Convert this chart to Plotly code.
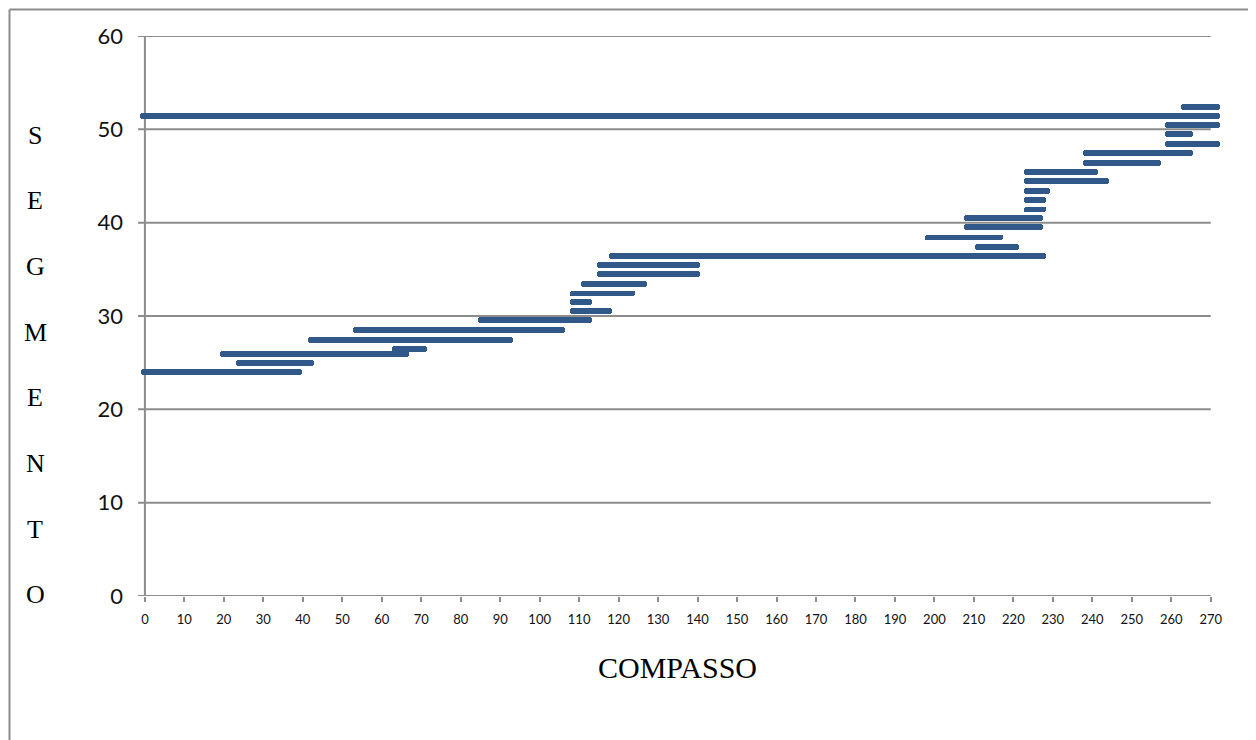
import plotly.graph_objects as go

# ---- data ----
segment = [24.03, 25.0, 25.96, 26.46, 27.43, 28.46, 29.57, 30.5, 31.46, 32.4,
           33.4, 34.5, 35.5, 36.47, 37.43, 38.4, 39.57, 40.46, 41.4, 42.4,
           43.4, 44.43, 45.43, 46.43, 47.43, 48.4, 49.5, 50.5, 51.46, 52.43]
start_bar = [-1.0, 23.0, 19.0, 62.7, 41.3, 52.7, 84.5, 107.6, 107.6, 107.6,
             110.4, 114.4, 114.4, 117.6, 210.3, 197.6, 207.5, 207.5, 222.6, 222.6,
             222.6, 222.6, 222.6, 237.6, 237.6, 258.4, 258.4, 258.4, -1.2, 262.5]
end_bar = [39.7, 42.9, 66.9, 71.5, 93.3, 106.4, 113.3, 118.3, 113.3, 124.2,
           127.3, 140.6, 140.6, 228.2, 221.4, 217.4, 227.4, 227.4, 228.2, 228.2,
           229.2, 244.2, 241.5, 257.3, 265.5, 272.4, 265.5, 272.4, 272.4, 272.4]
x_ticks = list(range(0, 271, 10))
y_ticks = [0, 10, 20, 30, 40, 50, 60]
x_title = "COMPASSO"
y_title = "SEGMENTO"

BAR = "#30598a"
GRID = "#8c8c8c"

# page has an 8px body margin; figure pixel = page pixel - 8
OFF = 8
L, T, PW, PH = 138 - OFF, 36 - OFF, 1083, 560
W, H = 1248, 732


def px_x(p):
    return (p - OFF - L) / PW


def px_y(p):
    return (T + PH - (p - OFF)) / PH


fig = go.Figure()
fig.add_trace(go.Bar(
    y=segment,
    x=[e - s for s, e in zip(start_bar, end_bar)],
    base=start_bar,
    orientation="h",
    width=0.62,
    marker=dict(color=BAR, line=dict(width=0), cornerradius=3),
    hoverinfo="skip",
))

X0, X1 = -1.75, 272.6
shapes = []
for v in y_ticks:
    shapes.append(dict(type="line", xref="x", yref="y", x0=X0, x1=270, y0=v, y1=v,
                       line=dict(color=GRID, width=2), layer="below"))
shapes.append(dict(type="line", xref="x", yref="y", x0=0, x1=0, y0=0, y1=60,
                   line=dict(color=GRID, width=2), layer="below"))
# outer frame (left, top, right)
fl, fr, ft, fb = px_x(9.5), px_x(1249), px_y(9.5), px_y(745)
frame = dict(color=GRID, width=2)
shapes.append(dict(type="line", xref="paper", yref="paper", x0=fl, x1=fl, y0=fb, y1=ft, line=frame))
shapes.append(dict(type="line", xref="paper", yref="paper", x0=fl, x1=fr, y0=ft, y1=ft, line=frame))
shapes.append(dict(type="line", xref="paper", yref="paper", x0=fr, x1=fr, y0=fb, y1=ft, line=frame))

annotations = []
for i, ch in enumerate(y_title):
    pix = 135 + i * 65.7
    annotations.append(dict(text=ch, xref="paper", yref="paper",
                            x=px_x(35), y=px_y(pix),
                            showarrow=False, xanchor="center", yanchor="middle",
                            font=dict(family="Liberation Serif", size=26, color="#000")))
annotations.append(dict(text=x_title, xref="paper", yref="paper",
                        x=px_x(677), y=px_y(667),
                        showarrow=False, xanchor="center", yanchor="middle",
                        font=dict(family="Liberation Serif", size=30, color="#000")))

fig.update_layout(
    width=W, height=H,
    margin=dict(l=L, r=W - L - PW, t=T, b=H - T - PH),
    paper_bgcolor="white", plot_bgcolor="white",
    showlegend=False,
    shapes=shapes,
    annotations=annotations,
    bargap=0,
    xaxis=dict(range=[X0, X1], tickvals=x_ticks, ticktext=[str(v) for v in x_ticks],
               showgrid=False, zeroline=False, showline=False,
               ticks="outside", ticklen=5, tickwidth=2, tickcolor=GRID,
               tickfont=dict(family="Lato", size=13, color="#111"),
               ticklabelstandoff=6),
    yaxis=dict(range=[0, 60], tickvals=y_ticks, showgrid=False, zeroline=False,
               showline=False, ticks="",
               tickfont=dict(family="Lato", size=22, color="#111"),
               ticklabelstandoff=14),
)

fig.write_html("out.html")
